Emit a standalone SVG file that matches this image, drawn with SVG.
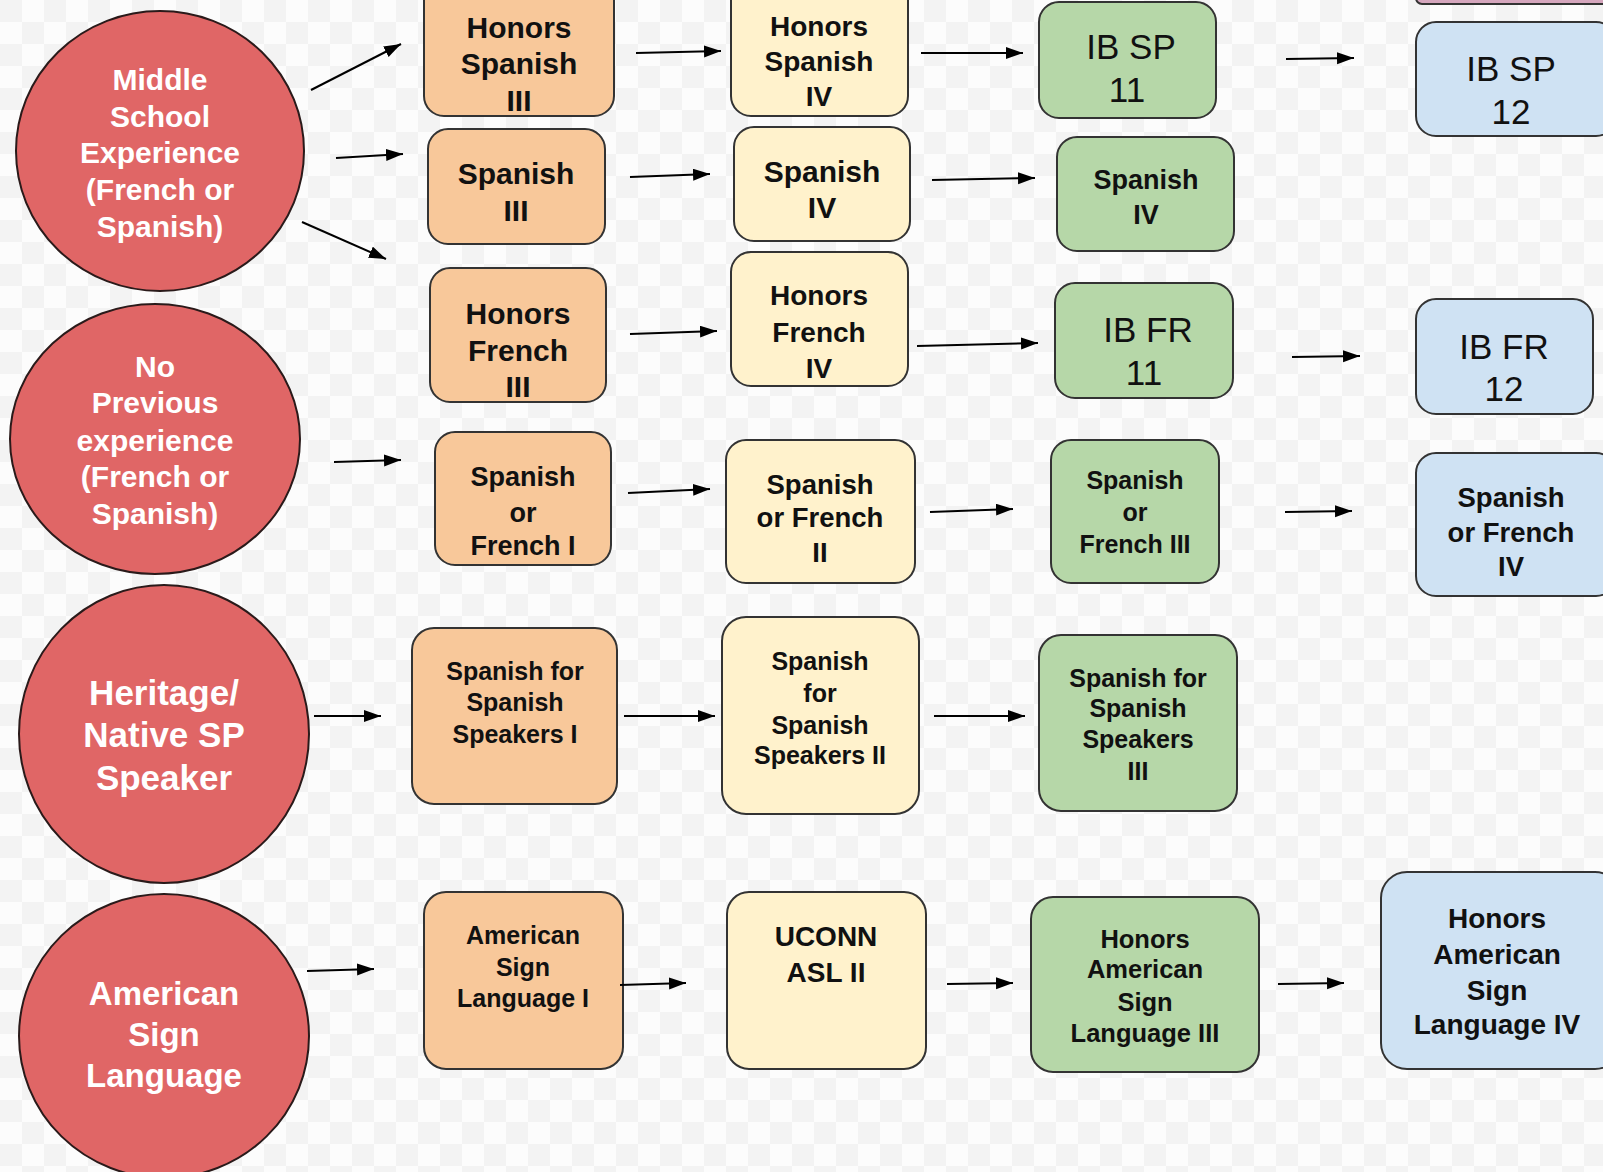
<svg xmlns="http://www.w3.org/2000/svg" width="1603" height="1172" viewBox="0 0 1603 1172">
<defs>
<pattern id="chk" width="44" height="44" patternUnits="userSpaceOnUse">
<rect width="44" height="44" fill="#fcfcfc"/>
<rect width="22" height="22" fill="#f3f3f3"/>
<rect x="22" y="22" width="22" height="22" fill="#f3f3f3"/>
</pattern>
<marker id="ah" markerWidth="18" markerHeight="13" refX="17" refY="6" orient="auto" markerUnits="userSpaceOnUse">
<path d="M0,0 L17,6 L0,12 z" fill="#000"/>
</marker>
</defs>
<style>
.c{fill:#e06666;stroke:#2a1a1a;stroke-width:2}
.o{fill:#f8c89a;stroke:#333;stroke-width:2}
.y{fill:#fff2cc;stroke:#333;stroke-width:2}
.g{fill:#b6d7a8;stroke:#333;stroke-width:2}
.b{fill:#cfe2f3;stroke:#333;stroke-width:2}
.p{fill:#d5a6bd;stroke:#333;stroke-width:2}
text{font-family:"Liberation Sans",Arial,sans-serif;text-anchor:middle}
.ct{fill:#fff;font-weight:bold}
.bt{fill:#111;font-weight:bold}
.rt{fill:#111;font-weight:normal}
.ln{stroke:#000;stroke-width:2;fill:none;marker-end:url(#ah)}
</style>
<rect width="1603" height="1172" fill="url(#chk)"/>

<g id="n-top-strip"><rect class="p" x="1416" y="-30" width="200" height="34" rx="6"/></g>

<g id="n-ms">
<ellipse class="c" cx="160" cy="151" rx="144" ry="140"/>
<text class="ct" font-size="30"><tspan x="160" y="90">Middle</tspan><tspan x="160" y="127">School</tspan><tspan x="160" y="163">Experience</tspan><tspan x="160" y="200">(French or</tspan><tspan x="160" y="237">Spanish)</tspan></text>
</g>
<g id="n-np">
<ellipse class="c" cx="155" cy="439" rx="145" ry="135"/>
<text class="ct" font-size="30"><tspan x="155" y="377">No</tspan><tspan x="155" y="413">Previous</tspan><tspan x="155" y="451">experience</tspan><tspan x="155" y="487">(French or</tspan><tspan x="155" y="524">Spanish)</tspan></text>
</g>
<g id="n-her">
<ellipse class="c" cx="164" cy="734" rx="145" ry="149"/>
<text class="ct" font-size="35"><tspan x="164" y="705">Heritage/</tspan><tspan x="164" y="747">Native SP</tspan><tspan x="164" y="790">Speaker</tspan></text>
</g>
<g id="n-asl">
<ellipse class="c" cx="164" cy="1036" rx="145" ry="142"/>
<text class="ct" font-size="33"><tspan x="164" y="1005">American</tspan><tspan x="164" y="1046">Sign</tspan><tspan x="164" y="1087">Language</tspan></text>
</g>

<g id="n-hs3">
<rect class="o" x="424" y="-20" width="190" height="136" rx="20"/>
<text class="bt" font-size="30"><tspan x="519" y="38">Honors</tspan><tspan x="519" y="74">Spanish</tspan><tspan x="519" y="111">III</tspan></text>
</g>
<g id="n-s3">
<rect class="o" x="428" y="129" width="177" height="115" rx="20"/>
<text class="bt" font-size="30"><tspan x="516" y="184">Spanish</tspan><tspan x="516" y="221">III</tspan></text>
</g>
<g id="n-hf3">
<rect class="o" x="430" y="268" width="176" height="134" rx="20"/>
<text class="bt" font-size="30"><tspan x="518" y="324">Honors</tspan><tspan x="518" y="361">French</tspan><tspan x="518" y="397">III</tspan></text>
</g>
<g id="n-sf1">
<rect class="o" x="435" y="432" width="176" height="133" rx="20"/>
<text class="bt" font-size="27"><tspan x="523" y="486">Spanish</tspan><tspan x="523" y="522">or</tspan><tspan x="523" y="555">French I</tspan></text>
</g>
<g id="n-sfss1">
<rect class="o" x="412" y="628" width="205" height="176" rx="22"/>
<text class="bt" font-size="25"><tspan x="515" y="680">Spanish for</tspan><tspan x="515" y="711">Spanish</tspan><tspan x="515" y="743">Speakers I</tspan></text>
</g>
<g id="n-asl1">
<rect class="o" x="424" y="892" width="199" height="177" rx="22"/>
<text class="bt" font-size="25"><tspan x="523" y="944">American</tspan><tspan x="523" y="976">Sign</tspan><tspan x="523" y="1007">Language I</tspan></text>
</g>

<g id="n-hs4">
<rect class="y" x="731" y="-20" width="177" height="136" rx="20"/>
<text class="bt" font-size="28"><tspan x="819" y="36">Honors</tspan><tspan x="819" y="71">Spanish</tspan><tspan x="819" y="106">IV</tspan></text>
</g>
<g id="n-s4">
<rect class="y" x="734" y="127" width="176" height="114" rx="20"/>
<text class="bt" font-size="30"><tspan x="822" y="182">Spanish</tspan><tspan x="822" y="218">IV</tspan></text>
</g>
<g id="n-hf4">
<rect class="y" x="731" y="252" width="177" height="134" rx="20"/>
<text class="bt" font-size="28"><tspan x="819" y="305">Honors</tspan><tspan x="819" y="342">French</tspan><tspan x="819" y="378">IV</tspan></text>
</g>
<g id="n-sf2">
<rect class="y" x="726" y="440" width="189" height="143" rx="20"/>
<text class="bt" font-size="27.5"><tspan x="820" y="494">Spanish</tspan><tspan x="820" y="527">or French</tspan><tspan x="820" y="562">II</tspan></text>
</g>
<g id="n-sfss2">
<rect class="y" x="722" y="617" width="197" height="197" rx="24"/>
<text class="bt" font-size="25"><tspan x="820" y="670">Spanish</tspan><tspan x="820" y="702">for</tspan><tspan x="820" y="734">Spanish</tspan><tspan x="820" y="764">Speakers II</tspan></text>
</g>
<g id="n-uconn">
<rect class="y" x="727" y="892" width="199" height="177" rx="22"/>
<text class="bt" font-size="28"><tspan x="826" y="946">UCONN</tspan><tspan x="826" y="982">ASL II</tspan></text>
</g>

<g id="n-ibsp11">
<rect class="g" x="1039" y="2" width="177" height="116" rx="20"/>
<text class="rt" font-size="35"><tspan x="1131" y="59">IB SP</tspan><tspan x="1127" y="102">11</tspan></text>
</g>
<g id="n-s4g">
<rect class="g" x="1057" y="137" width="177" height="114" rx="20"/>
<text class="bt" font-size="27"><tspan x="1146" y="189">Spanish</tspan><tspan x="1146" y="224">IV</tspan></text>
</g>
<g id="n-ibfr11">
<rect class="g" x="1055" y="283" width="178" height="115" rx="20"/>
<text class="rt" font-size="35"><tspan x="1148" y="342">IB FR</tspan><tspan x="1144" y="385">11</tspan></text>
</g>
<g id="n-sf3">
<rect class="g" x="1051" y="440" width="168" height="143" rx="20"/>
<text class="bt" font-size="25"><tspan x="1135" y="489">Spanish</tspan><tspan x="1135" y="521">or</tspan><tspan x="1135" y="553">French III</tspan></text>
</g>
<g id="n-sfss3">
<rect class="g" x="1039" y="635" width="198" height="176" rx="22"/>
<text class="bt" font-size="25"><tspan x="1138" y="687">Spanish for</tspan><tspan x="1138" y="717">Spanish</tspan><tspan x="1138" y="748">Speakers</tspan><tspan x="1138" y="780">III</tspan></text>
</g>
<g id="n-hasl3">
<rect class="g" x="1031" y="897" width="228" height="175" rx="22"/>
<text class="bt" font-size="25.5"><tspan x="1145" y="948">Honors</tspan><tspan x="1145" y="978">American</tspan><tspan x="1145" y="1011">Sign</tspan><tspan x="1145" y="1042">Language III</tspan></text>
</g>

<g id="n-ibsp12">
<rect class="b" x="1416" y="22" width="200" height="114" rx="20"/>
<text class="rt" font-size="35"><tspan x="1511" y="81">IB SP</tspan><tspan x="1511" y="124">12</tspan></text>
</g>
<g id="n-ibfr12">
<rect class="b" x="1416" y="299" width="177" height="115" rx="20"/>
<text class="rt" font-size="35"><tspan x="1504" y="359">IB FR</tspan><tspan x="1504" y="401">12</tspan></text>
</g>
<g id="n-sf4">
<rect class="b" x="1416" y="453" width="200" height="143" rx="20"/>
<text class="bt" font-size="27.5"><tspan x="1511" y="507">Spanish</tspan><tspan x="1511" y="542">or French</tspan><tspan x="1511" y="576">IV</tspan></text>
</g>
<g id="n-hasl4">
<rect class="b" x="1381" y="872" width="240" height="197" rx="26"/>
<text class="bt" font-size="28"><tspan x="1497" y="928">Honors</tspan><tspan x="1497" y="964">American</tspan><tspan x="1497" y="1000">Sign</tspan><tspan x="1497" y="1034">Language IV</tspan></text>
</g>

<g id="connectors">
<line class="ln" x1="311" y1="90" x2="401" y2="44"/>
<line class="ln" x1="336" y1="158" x2="403" y2="154"/>
<line class="ln" x1="302" y1="222" x2="386" y2="259"/>
<line class="ln" x1="334" y1="462" x2="401" y2="460"/>
<line class="ln" x1="314" y1="716" x2="381" y2="716"/>
<line class="ln" x1="307" y1="971" x2="374" y2="969"/>

<line class="ln" x1="636" y1="53" x2="721" y2="51"/>
<line class="ln" x1="630" y1="177" x2="710" y2="174"/>
<line class="ln" x1="630" y1="334" x2="717" y2="331"/>
<line class="ln" x1="628" y1="493" x2="710" y2="489"/>
<line class="ln" x1="624" y1="716" x2="715" y2="716"/>
<line class="ln" x1="620" y1="985" x2="686" y2="983"/>

<line class="ln" x1="921" y1="53" x2="1023" y2="53"/>
<line class="ln" x1="932" y1="180" x2="1035" y2="178"/>
<line class="ln" x1="917" y1="346" x2="1038" y2="343"/>
<line class="ln" x1="930" y1="512" x2="1013" y2="509"/>
<line class="ln" x1="934" y1="716" x2="1025" y2="716"/>
<line class="ln" x1="947" y1="984" x2="1013" y2="983"/>

<line class="ln" x1="1286" y1="59" x2="1354" y2="58"/>
<line class="ln" x1="1292" y1="357" x2="1360" y2="356"/>
<line class="ln" x1="1285" y1="512" x2="1352" y2="511"/>
<line class="ln" x1="1278" y1="984" x2="1344" y2="983"/>
</g>
</svg>
